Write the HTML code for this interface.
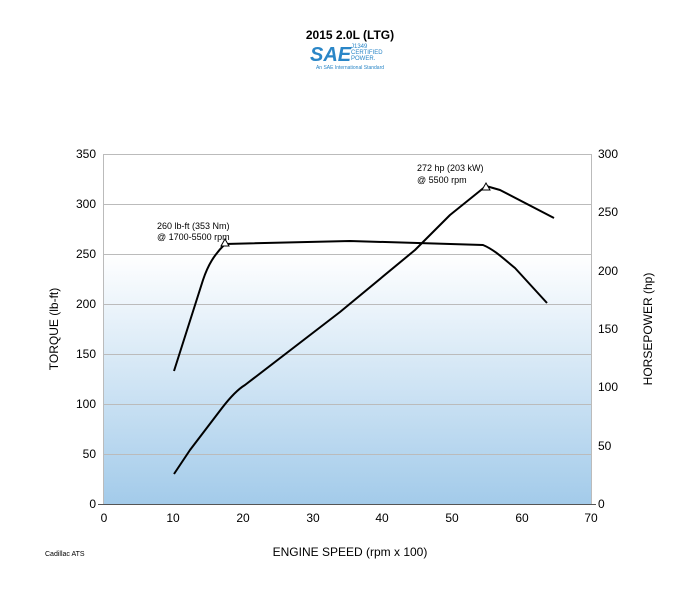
<!DOCTYPE html>
<html><head><style>body{margin:0;background:#fff;width:700px;height:588px;overflow:hidden}</style></head><body>
<svg width="700" height="588" viewBox="0 0 700 588" font-family="Liberation Sans, sans-serif">
<defs><linearGradient id="g" x1="0" y1="0" x2="0" y2="1"><stop offset="0" stop-color="#ffffff"/><stop offset="1" stop-color="#a3cbea"/></linearGradient></defs>
<text x="350" y="39" text-anchor="middle" font-size="12" font-weight="bold">2015 2.0L  (LTG)</text>
<text x="310" y="61" font-size="20" font-weight="bold" fill="#2a86c7" font-style="italic">SAE</text>
<text x="351" y="48" font-size="6" fill="#2a86c7">J1349</text>
<text x="351" y="54" font-size="6" fill="#2a86c7">CERTIFIED</text>
<text x="351" y="60" font-size="6" fill="#2a86c7">POWER.</text>
<text x="350" y="69" text-anchor="middle" font-size="5" fill="#2a86c7">An SAE International Standard</text>
<rect x="104" y="254" width="487" height="250" fill="url(#g)"/>
<g stroke="#bbb" stroke-width="1">
<line x1="104" y1="154.5" x2="591" y2="154.5"/><line x1="104" y1="204.5" x2="591" y2="204.5"/><line x1="104" y1="254.5" x2="591" y2="254.5"/><line x1="104" y1="304.5" x2="591" y2="304.5"/><line x1="104" y1="354.5" x2="591" y2="354.5"/><line x1="104" y1="404.5" x2="591" y2="404.5"/><line x1="104" y1="454.5" x2="591" y2="454.5"/>
<line x1="103.5" y1="154" x2="103.5" y2="504"/><line x1="591.5" y1="154" x2="591.5" y2="504"/>
</g>
<line x1="98" y1="504.5" x2="596" y2="504.5" stroke="#555"/>
<g font-size="12" text-anchor="end">
<text x="96" y="158">350</text><text x="96" y="208">300</text><text x="96" y="258">250</text><text x="96" y="308">200</text><text x="96" y="358">150</text><text x="96" y="408">100</text><text x="96" y="458">50</text><text x="96" y="508">0</text></g>
<g font-size="12">
<text x="598" y="158">300</text><text x="598" y="216">250</text><text x="598" y="275">200</text><text x="598" y="333">150</text><text x="598" y="391">100</text><text x="598" y="450">50</text><text x="598" y="508">0</text></g>
<g font-size="12" text-anchor="middle">
<text x="104" y="522">0</text><text x="173" y="522">10</text><text x="243" y="522">20</text><text x="313" y="522">30</text><text x="382" y="522">40</text><text x="452" y="522">50</text><text x="522" y="522">60</text><text x="591" y="522">70</text></g>
<text x="350" y="556" text-anchor="middle" font-size="12">ENGINE SPEED (rpm x 100)</text>
<text x="45" y="556" font-size="7">Cadillac ATS</text>
<text transform="translate(58,329) rotate(-90)" text-anchor="middle" font-size="12">TORQUE (lb-ft)</text>
<text transform="translate(652,329) rotate(-90)" text-anchor="middle" font-size="12">HORSEPOWER (hp)</text>
<g fill="none" stroke="#000" stroke-width="2" stroke-linejoin="round">
<path d="M174,371 L203,280 C208,265 214,255 225,244 L350,241 L483,245 C495,250 505,260 515,268 L547,303"/>
<path d="M174,474 L190,450 L222,408 C232,395 240,388 245,385 L340,312 L415,250 L450,215 L486,186 L500,190 L554,218"/>
</g>
<g fill="#fff" stroke="#000" stroke-width="1"><path d="M225,239 L229,246 L221,246Z"/><path d="M486,183 L490,190 L482,190Z"/></g>
<g font-size="9">
<text x="157" y="229">260 lb-ft (353 Nm)</text><text x="157" y="240">@ 1700-5500 rpm</text>
<text x="417" y="171">272 hp (203 kW)</text><text x="417" y="183">@ 5500 rpm</text></g>
</svg></body></html>
